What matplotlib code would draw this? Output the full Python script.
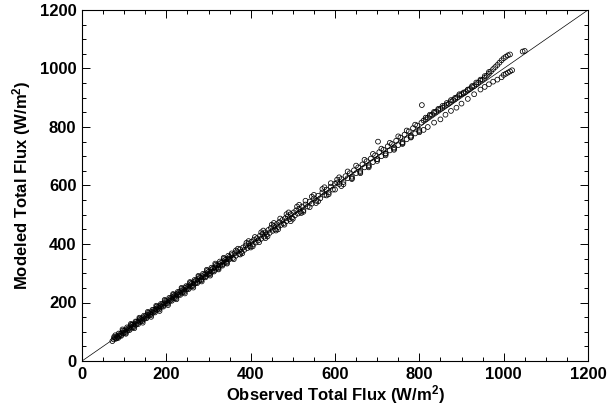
import matplotlib
matplotlib.use("Agg")
import matplotlib.pyplot as plt
from matplotlib.ticker import MultipleLocator

plt.rcParams['font.family'] = ['Liberation Sans', 'DejaVu Sans']
plt.rcParams['mathtext.fontset'] = 'custom'
plt.rcParams['mathtext.rm'] = 'Liberation Sans:bold'
plt.rcParams['mathtext.default'] = 'rm'

# ---- data ----
obs_low = [72, 75, 78, 80, 83, 85, 88, 90, 92, 95, 98, 100, 102, 105, 108, 110, 112, 115, 118, 120,
           122, 125, 128, 130, 132, 135, 138, 140, 142, 145, 148, 150, 152, 155, 158, 160, 162, 165,
           168, 170, 172, 175, 178, 180, 182, 185, 188, 190, 192, 195, 198, 200, 202, 205, 208, 210,
           212, 215, 218, 220, 222, 225, 228, 230, 232, 235, 238, 240, 242, 245, 248, 250, 252, 255,
           258, 260, 263, 265, 268, 270, 273, 275, 278, 280, 283, 285, 288, 290, 293, 295, 298, 300,
           303, 305, 308, 310, 313, 315, 318, 320, 323, 325, 328, 330, 333, 335, 338, 340, 343, 345,
           348, 350]
mod_low = [68, 74, 80, 76, 85, 82, 86, 92, 88, 97, 95, 103, 99, 108, 104, 112, 110, 118, 114, 124,
           120, 128, 124, 134, 130, 139, 135, 143, 140, 149, 144, 153, 150, 158, 155, 163, 160, 168,
           165, 174, 170, 178, 175, 184, 180, 188, 185, 194, 190, 198, 196, 204, 199, 208, 205, 214,
           210, 219, 215, 224, 220, 229, 226, 235, 230, 239, 235, 244, 240, 250, 245, 254, 250, 259,
           255, 265, 260, 270, 265, 275, 270, 280, 275, 285, 280, 290, 286, 295, 290, 300, 296, 305,
           300, 311, 305, 316, 310, 320, 316, 326, 320, 331, 326, 336, 330, 341, 336, 346, 340, 350,
           347, 356]

obs_low2 = [76, 82, 87, 93, 97, 103, 107, 113, 117, 123, 127, 133, 137, 143, 147, 153, 157, 163, 167,
            173, 177, 183, 187, 193, 197, 203, 207, 213, 217, 223, 227, 233, 237, 243, 247, 253, 257,
            263, 267, 273, 277, 283, 287, 293, 297, 303, 307, 313, 317, 323, 327, 333, 337, 343, 347,
            79, 86, 96, 104, 116, 124, 136, 144, 156, 164, 176, 184, 196, 204, 216, 224, 236, 244,
            256, 264, 276, 284, 296, 304, 316, 324, 336, 344]
mod_low2 = [82, 78, 94, 86, 104, 96, 115, 106, 124, 116, 135, 126, 145, 136, 155, 146, 165, 156, 175,
            166, 186, 176, 195, 186, 206, 196, 216, 206, 226, 215, 236, 226, 247, 236, 256, 246, 267,
            256, 277, 266, 288, 276, 298, 286, 309, 296, 319, 306, 329, 316, 340, 326, 350, 336, 360,
            88, 79, 108, 93, 127, 112, 148, 131, 168, 151, 189, 171, 209, 191, 229, 211, 250, 231,
            270, 251, 291, 272, 312, 292, 333, 313, 353, 333]

obs_mid = [352, 355, 358, 362, 365, 368, 372, 375, 378, 382, 385, 388, 392, 395, 398, 402, 405, 408,
           412, 415, 418, 422, 425, 428, 432, 435, 438, 442, 445, 448, 452, 455, 458, 462, 465, 468,
           472, 475, 478, 482, 485, 488, 492, 495, 498, 502, 505, 508, 512, 515, 518, 522, 525, 530,
           535, 540, 545, 550, 555, 560, 565, 570, 575, 580, 585, 590, 595, 600,
           355, 360, 370, 380, 390, 400, 410, 420, 430, 440, 450, 460, 470, 480, 490, 500, 510, 520,
           530, 540, 550, 560, 570, 580, 590, 600,
           365, 375, 395, 405, 425, 435, 455, 465, 485, 495, 515, 525, 545, 555, 575, 585, 605, 615]
mod_mid = [350, 362, 352, 368, 360, 375, 366, 382, 373, 388, 380, 395, 386, 402, 392, 408, 398, 415,
           405, 420, 412, 428, 418, 435, 425, 440, 432, 448, 438, 455, 445, 462, 450, 468, 458, 475,
           465, 482, 470, 488, 478, 495, 485, 502, 490, 508, 498, 515, 504, 520, 510, 528, 515, 535,
           528, 545, 538, 556, 548, 565, 556, 576, 568, 586, 576, 596, 586, 606,
           368, 348, 384, 368, 404, 388, 424, 406, 446, 426, 466, 446, 487, 466, 508, 486, 528, 506,
           548, 526, 568, 546, 588, 566, 608, 586,
           378, 364, 410, 392, 440, 420, 472, 450, 502, 478, 534, 510, 562, 540, 594, 570, 620, 598]

obs_high = [605, 610, 615, 620, 625, 630, 635, 640, 645, 650, 655, 660, 665, 670, 675, 680, 685, 690,
            695, 700, 705, 710, 715, 720, 725, 730, 735, 740, 745, 750, 755, 760, 765, 770, 775, 780,
            785, 790, 795, 800,
            610, 620, 630, 640, 650, 660, 670, 680, 690, 700, 710, 720, 730, 740, 750, 760, 770, 780,
            790, 800,
            640, 660, 680, 700, 720, 740, 760, 780, 800, 810, 820, 835,
            702, 806]
mod_high = [610, 605, 622, 612, 632, 625, 642, 630, 652, 642, 662, 650, 672, 662, 683, 670, 692, 680,
            703, 690, 714, 700, 722, 710, 734, 720, 742, 730, 753, 738, 764, 748, 774, 758, 785, 766,
            796, 778, 805, 786,
            628, 604, 648, 625, 668, 646, 688, 666, 708, 690, 726, 708, 746, 726, 768, 745, 788, 770,
            808, 790,
            622, 642, 662, 684, 703, 722, 742, 764, 782, 790, 800, 815,
            750, 875]

obs_top = [805, 810, 815, 820, 825, 830, 835, 840, 845, 850, 855, 860, 865, 870, 875, 880, 885, 890,
           895, 900, 905, 910, 915, 920, 925, 930, 935, 940, 945, 950, 955, 960, 965, 970, 975, 980,
           985, 990, 995, 1000, 1005, 1010, 1015, 1045, 1050,
           815, 825, 835, 845, 855, 865, 875, 885, 895, 905, 915, 925, 935, 945, 955, 965]
mod_top = [815, 822, 826, 832, 838, 842, 848, 852, 858, 862, 866, 872, 876, 880, 886, 892, 896, 902,
           908, 912, 915, 920, 926, 930, 936, 940, 946, 952, 958, 962, 968, 975, 982, 990, 998, 1005,
           1012, 1020, 1028, 1035, 1040, 1045, 1048, 1058, 1060,
           832, 842, 852, 862, 872, 882, 892, 900, 912, 918, 928, 940, 952, 962, 974, 988]

obs_branch = [850, 862, 875, 888, 900, 915, 930, 945, 955, 965, 975, 985, 995, 1000, 1005, 1010, 1015, 1020]
mod_branch = [826, 842, 855, 866, 880, 896, 912, 928, 937, 946, 955, 962, 970, 978, 982, 986, 990, 994]

ticks = [0, 200, 400, 600, 800, 1000, 1200]

obs = obs_low + obs_low2 + obs_mid + obs_high + obs_top + obs_branch
mod = mod_low + mod_low2 + mod_mid + mod_high + mod_top + mod_branch

fig = plt.figure(figsize=(6.15, 4.09), dpi=100)
ax = fig.add_axes([82 / 615, 48 / 409, 506 / 615, 351 / 409])

ax.plot([0, 1200], [0, 1200], color='black', lw=0.5)
ax.scatter(obs, mod, s=12, facecolors='none', edgecolors='black', linewidths=0.55)

ax.set_xlim(0, 1200)
ax.set_ylim(0, 1200)
ax.set_xticks(ticks)
ax.set_yticks(ticks)
ax.xaxis.set_minor_locator(MultipleLocator(50))
ax.yaxis.set_minor_locator(MultipleLocator(50))
ax.tick_params(which='both', direction='in', top=True, right=True, width=0.7)
ax.tick_params(which='major', length=6, labelsize=12, pad=4)
ax.tick_params(which='minor', length=3)
for lab in ax.get_xticklabels() + ax.get_yticklabels():
    lab.set_fontweight('bold')
for sp in ax.spines.values():
    sp.set_linewidth(0.8)

ax.set_xlabel('Observed Total Flux (W/m$^{2}$)', fontsize=12, fontweight='bold', labelpad=1)
ax.set_ylabel('Modeled Total Flux (W/m$^{2}$)', fontsize=12, fontweight='bold', labelpad=5)

fig.savefig('out.png', dpi=100)
